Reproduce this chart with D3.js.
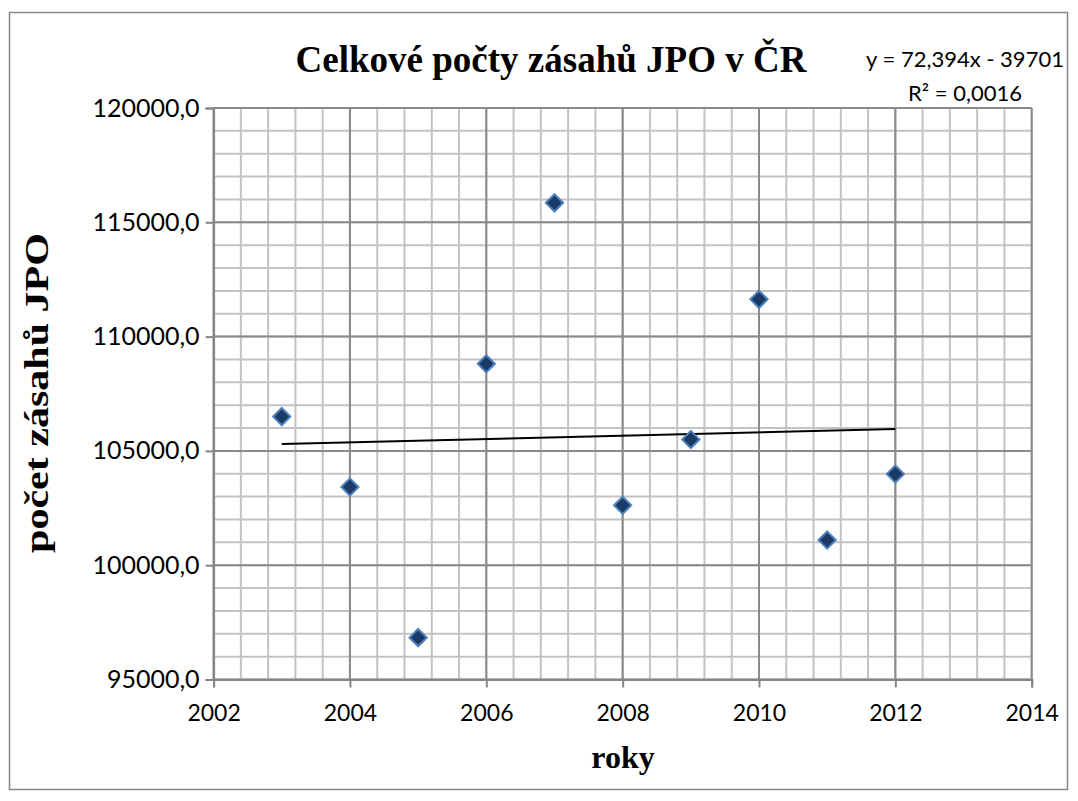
<!DOCTYPE html>
<html>
<head>
  <meta charset="UTF-8">
  <style>
    body { margin: 0; background: #fff; }
    svg { display: block; }
  </style>
</head>
<body>
  <svg></svg>
  <script src="https://d3js.org/d3.v7.min.js"></script>
  <script>
    let width = 1078, height = 801;

    // data
    const years = [2003, 2004, 2005, 2006, 2007, 2008, 2009, 2010, 2011, 2012];
    const zasahy = [106500, 103420, 96830, 108810, 115850, 102620, 105500, 111630, 101100, 103990];
    const xTicks = [2002, 2004, 2006, 2008, 2010, 2012, 2014];
    const yTicks = [95000, 100000, 105000, 110000, 115000, 120000];
    // trendline given by the chart label
    const trendSlope = 72.394, trendIntercept = -39701;
    const trendLabel = ["y = 72,394x - 39701", "R² = 0,0016"];

    let svg = d3.select("svg")
      .attr("width", width)
      .attr("height", height);

    svg.append("rect")
      .attr("x", 9.5).attr("y", 12.5)
      .attr("width", 1058).attr("height", 777)
      .attr("fill", "white")
      .attr("stroke", "#878787")
      .attr("stroke-width", 1.5);

    let x = d3.scaleLinear().domain([2002, 2014]).range([213.6, 1031.7]);
    let y = d3.scaleLinear().domain([95000, 120000]).range([679.5, 108]);

    // minor grid
    let xMinor = d3.range(0, 31).map(i => 2002 + i * 0.4);
    let yMinor = d3.range(95000, 120001, 1000);

    let grid = svg.append("g");
    grid.selectAll(".vx").data(xMinor).enter().append("line")
      .attr("x1", d => x(d)).attr("x2", d => x(d))
      .attr("y1", y(95000)).attr("y2", y(120000))
      .attr("stroke", "#c3c3c3").attr("stroke-width", 2);
    grid.selectAll(".hy").data(yMinor).enter().append("line")
      .attr("y1", d => y(d)).attr("y2", d => y(d))
      .attr("x1", x(2002)).attr("x2", x(2014))
      .attr("stroke", "#c3c3c3").attr("stroke-width", 2);

    // major grid
    grid.selectAll(".vmaj").data(xTicks).enter().append("line")
      .attr("x1", d => x(d)).attr("x2", d => x(d))
      .attr("y1", y(95000)).attr("y2", y(120000))
      .attr("stroke", "#8a8a8a").attr("stroke-width", 2);
    grid.selectAll(".hmaj").data(yTicks).enter().append("line")
      .attr("y1", d => y(d)).attr("y2", d => y(d))
      .attr("x1", x(2002)).attr("x2", x(2014))
      .attr("stroke", "#8a8a8a").attr("stroke-width", 2);

    // axes
    let fmt = d => d3.format(".1f")(d).replace(".", ",");

    let xAxis = svg.append("g")
      .attr("transform", "translate(0," + y(95000) + ")")
      .call(d3.axisBottom(x).tickValues(xTicks).tickFormat(d3.format("d")).tickSize(8).tickPadding(17));
    let yAxis = svg.append("g")
      .attr("transform", "translate(" + x(2002) + ",0)")
      .call(d3.axisLeft(y).tickValues(yTicks).tickFormat(fmt).tickSize(8).tickPadding(6));

    [xAxis, yAxis].forEach(a => {
      a.select(".domain").attr("stroke", "#868686").attr("stroke-width", 2);
      a.selectAll(".tick line").attr("stroke", "#868686").attr("stroke-width", 2);
      a.selectAll("text")
        .attr("fill", "#000")
        .style("font-family", "Lato, 'Open Sans', sans-serif")
        .style("font-size", "23px");
    });
    yAxis.selectAll("text").style("font-size", "25px");

    // trendline
    svg.append("line")
      .attr("x1", x(years[0])).attr("y1", y(trendSlope * years[0] + trendIntercept))
      .attr("x2", x(years[years.length - 1])).attr("y2", y(trendSlope * years[years.length - 1] + trendIntercept))
      .attr("stroke", "#000").attr("stroke-width", 2);

    // points
    let diamond = d3.symbol().type(d3.symbolDiamond2).size(190);
    svg.selectAll(".pt").data(years).enter().append("path")
      .attr("d", diamond)
      .attr("transform", (d, i) => "translate(" + x(d) + "," + y(zasahy[i]) + ")")
      .attr("fill", "#1b3a66")
      .attr("stroke", "#4f81bd")
      .attr("stroke-width", 2);

    // titles
    svg.append("text")
      .attr("x", 551).attr("y", 72)
      .attr("text-anchor", "middle")
      .style("font-family", "'Liberation Serif', 'Times New Roman', serif")
      .style("font-weight", "bold")
      .style("font-size", "37px")
      .text("Celkové počty zásahů JPO v ČR");

    svg.append("text")
      .attr("transform", "translate(48,393) rotate(-90)")
      .attr("text-anchor", "middle")
      .attr("textLength", 320)
      .attr("lengthAdjust", "spacingAndGlyphs")
      .style("font-family", "'Liberation Serif', 'Times New Roman', serif")
      .style("font-weight", "bold")
      .style("font-size", "33px")
      .text("počet zásahů JPO");

    svg.append("text")
      .attr("x", 623).attr("y", 768)
      .attr("text-anchor", "middle")
      .style("font-family", "'Liberation Serif', 'Times New Roman', serif")
      .style("font-weight", "bold")
      .style("font-size", "32px")
      .text("roky");

    svg.selectAll(".eq").data(trendLabel).enter().append("text")
      .attr("x", 965).attr("y", (d, i) => 67 + i * 34)
      .attr("text-anchor", "middle")
      .style("font-family", "Lato, 'Open Sans', sans-serif")
      .style("font-size", "22px")
      .text(d => d);
  </script>
</body>
</html>
